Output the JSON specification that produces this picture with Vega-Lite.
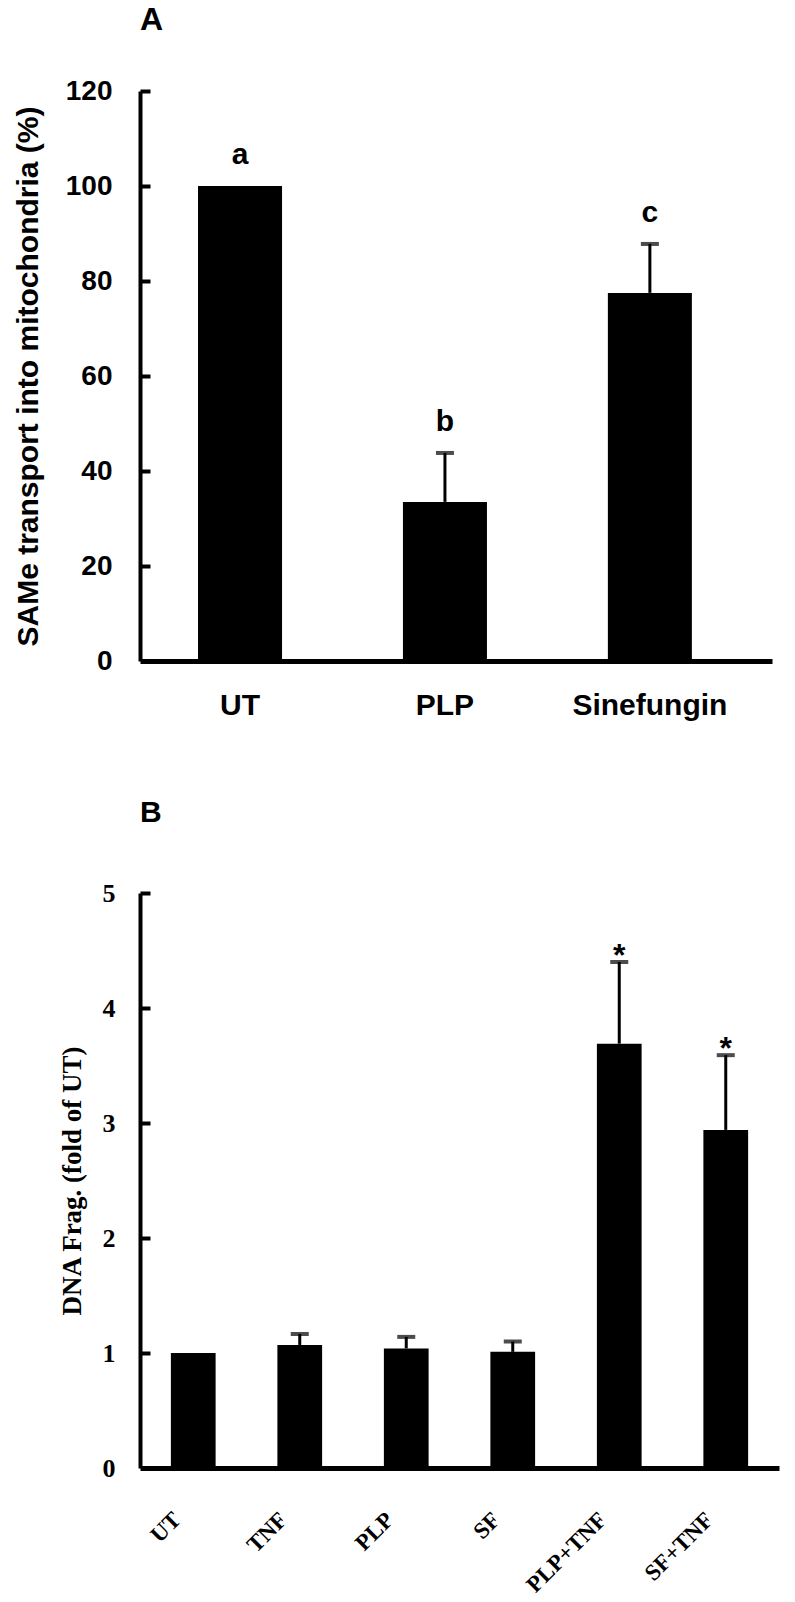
{
  "$schema": "https://vega.github.io/schema/vega-lite/v6.json",
  "background": "white",
  "padding": {"left": 13, "top": 4, "right": 5, "bottom": 0},
  "spacing": 78,
  "config": {
    "view": {"stroke": null},
    "axis": {"domainColor": "black", "tickColor": "black", "labelColor": "black", "titleColor": "black", "grid": false}
  },
  "vconcat": [
    {
      "title": {"text": "A", "anchor": "start", "frame": "group", "font": "Liberation Sans", "fontSize": 32, "fontWeight": "bold", "color": "black", "offset": 40},
      "width": 632,
      "height": 570,
      "data": {"values": [
        {"group": "UT", "mean": 100, "upper": 100, "letter": "a"},
        {"group": "PLP", "mean": 33.5, "upper": 43.8, "letter": "b"},
        {"group": "Sinefungin", "mean": 77.5, "upper": 87.8, "letter": "c"}
      ]},
      "resolve": {"axis": {"y": "independent"}},
      "encoding": {
        "x": {"field": "group", "type": "nominal", "sort": null,
          "scale": {"paddingInner": 0.59, "paddingOuter": 0.337, "align": 0.42},
          "axis": {"title": null, "labelAngle": 0, "ticks": false, "domainWidth": 5, "labelFont": "Liberation Sans", "labelFontSize": 30, "labelFontWeight": "bold", "labelPadding": 29}}
      },
      "layer": [
        {
          "mark": {"type": "bar", "color": "black"},
          "encoding": {
            "y": {"field": "mean", "type": "quantitative", "scale": {"domain": [0, 120]},
              "axis": {"title": "SAMe transport into mitochondria (%)", "titleFont": "Liberation Sans", "titleFontSize": 30, "titleFontWeight": "bold", "titlePadding": 22,
                "labelFont": "Liberation Sans", "labelFontSize": 28, "labelFontWeight": "bold", "labelPadding": 28,
                "ticks": false, "domainWidth": 4, "values": [0, 20, 40, 60, 80, 100, 120]}}
          }
        },
        {
          "transform": [{"filter": "datum.upper > datum.mean"}],
          "mark": {"type": "rule", "color": "black", "strokeWidth": 3},
          "encoding": {"y": {"field": "mean", "type": "quantitative",
              "axis": {"orient": "right", "offset": -632, "title": null, "labels": false, "domain": false, "ticks": true, "tickSize": 10, "tickWidth": 4, "values": [20, 40, 60, 80, 100, 120]}},
            "y2": {"field": "upper"}}
        },
        {
          "transform": [{"filter": "datum.upper > datum.mean"}],
          "mark": {"type": "tick", "orient": "horizontal", "color": "black", "size": 18, "thickness": 4},
          "encoding": {"y": {"field": "upper", "type": "quantitative", "axis": null}}
        },
        {
          "mark": {"type": "text", "font": "Liberation Sans", "fontSize": 30, "fontWeight": "bold", "color": "black", "baseline": "alphabetic", "dy": -22},
          "encoding": {"y": {"field": "upper", "type": "quantitative", "axis": null}, "text": {"field": "letter"}}
        }
      ]
    },
    {
      "title": {"text": "B", "anchor": "start", "frame": "group", "font": "Liberation Sans", "fontSize": 30, "fontWeight": "bold", "color": "black", "offset": 52},
      "width": 639,
      "height": 575,
      "data": {"values": [
        {"group": "UT", "mean": 1.0, "upper": 1.0, "mark": ""},
        {"group": "TNF", "mean": 1.07, "upper": 1.165, "mark": ""},
        {"group": "PLP", "mean": 1.04, "upper": 1.14, "mark": ""},
        {"group": "SF", "mean": 1.01, "upper": 1.10, "mark": ""},
        {"group": "PLP+TNF", "mean": 3.69, "upper": 4.40, "mark": "*"},
        {"group": "SF+TNF", "mean": 2.94, "upper": 3.59, "mark": "*"}
      ]},
      "resolve": {"axis": {"y": "independent"}},
      "encoding": {
        "x": {"field": "group", "type": "nominal", "sort": null,
          "scale": {"paddingInner": 0.58, "paddingOuter": 0.29, "align": 0.5},
          "axis": {"title": null, "labelAngle": -45, "ticks": false, "domainWidth": 5, "labelFont": "Liberation Serif", "labelFontSize": 23, "labelFontWeight": "bold", "labelPadding": 40, "labelOffset": -24}}
      },
      "layer": [
        {
          "mark": {"type": "bar", "color": "black"},
          "encoding": {
            "y": {"field": "mean", "type": "quantitative", "scale": {"domain": [0, 5]},
              "axis": {"title": "DNA Frag. (fold of UT)", "titleFont": "Liberation Serif", "titleFontSize": 27, "titleFontWeight": "bold", "titlePadding": 16,
                "labelFont": "Liberation Serif", "labelFontSize": 26, "labelFontWeight": "bold", "labelPadding": 25, "format": "d",
                "ticks": false, "domainWidth": 4, "values": [0, 1, 2, 3, 4, 5]}}
          }
        },
        {
          "transform": [{"filter": "datum.upper > datum.mean"}],
          "mark": {"type": "rule", "color": "black", "strokeWidth": 3},
          "encoding": {"y": {"field": "mean", "type": "quantitative",
              "axis": {"orient": "right", "offset": -639, "title": null, "labels": false, "domain": false, "ticks": true, "tickSize": 10, "tickWidth": 4, "values": [1, 2, 3, 4, 5]}},
            "y2": {"field": "upper"}}
        },
        {
          "transform": [{"filter": "datum.upper > datum.mean"}],
          "mark": {"type": "tick", "orient": "horizontal", "color": "black", "size": 18, "thickness": 4},
          "encoding": {"y": {"field": "upper", "type": "quantitative", "axis": null}}
        },
        {
          "mark": {"type": "text", "font": "Liberation Sans", "fontSize": 32, "fontWeight": "bold", "color": "black", "baseline": "alphabetic", "dy": 4},
          "encoding": {"y": {"field": "upper", "type": "quantitative", "axis": null}, "text": {"field": "mark"}}
        }
      ]
    }
  ]
}
